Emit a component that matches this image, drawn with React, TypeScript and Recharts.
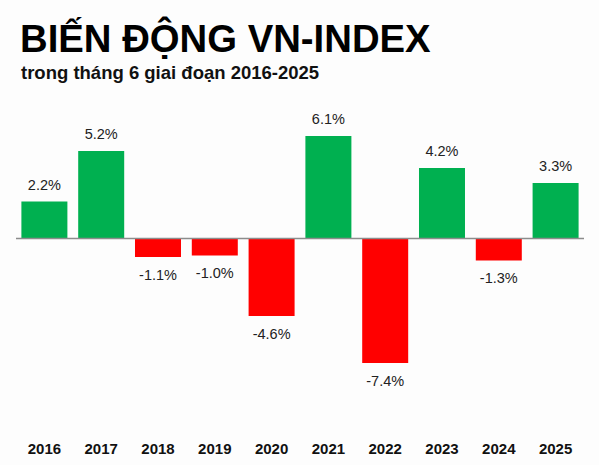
import { BarChart, Bar, XAxis, YAxis, Cell, LabelList, ReferenceLine } from 'recharts';

const years = ['2016', '2017', '2018', '2019', '2020', '2021', '2022', '2023', '2024', '2025'];
const changes = [2.2, 5.2, -1.1, -1.0, -4.6, 6.1, -7.4, 4.2, -1.3, 3.3];

const data = years.map((year, i) => ({ year, value: changes[i] }));

const GREEN = '#00b050';
const RED = '#ff0000';

const ValueLabel = (props: any) => {
  const { x, y, width, height, value } = props;
  const cx = x + width / 2;
  const neg = value < 0;
  const ty = neg ? Math.max(y, y + height) + 23 : Math.min(y, y + height) - 12;
  return (
    <text x={cx} y={ty} textAnchor="middle" fontSize={14.5} fill="#222" fontFamily="Arial, 'Liberation Sans', sans-serif">
      {value.toFixed(1) + '%'}
    </text>
  );
};

const YearTick = (props: any) => {
  const { x, y, payload } = props;
  return (
    <text x={x} y={y + 56} textAnchor="middle" fontSize={15} fontWeight="bold" fill="#111" fontFamily="Arial, 'Liberation Sans', sans-serif">
      {payload.value}
    </text>
  );
};

export default function App() {
  return (
    <div style={{ position: 'relative', width: 599, height: 465, background: '#fdfdfd', fontFamily: "Arial, 'Liberation Sans', sans-serif" }}>
      <style>{'body{margin:0}'}</style>
      <div style={{ position: 'absolute', left: 20, top: 17, fontSize: 38.3, fontWeight: 'bold', color: '#000', lineHeight: '44px', whiteSpace: 'nowrap' }}>
        BIẾN ĐỘNG VN-INDEX
      </div>
      <div style={{ position: 'absolute', left: 21, top: 63, fontSize: 18.5, fontWeight: 'bold', color: '#111', lineHeight: '20px', whiteSpace: 'nowrap' }}>
        trong tháng 6 giai đoạn 2016-2025
      </div>
      <div style={{ position: 'absolute', left: 0, top: 0 }}>
        <BarChart width={599} height={465} data={data} margin={{ top: 104, right: 15, left: 16, bottom: 0 }} barCategoryGap="9.5%">
          <YAxis hide domain={[-9, 8]} />
          <XAxis dataKey="year" height={75} axisLine={false} tickLine={false} tick={<YearTick />} interval={0} />
          <Bar dataKey="value" isAnimationActive={false}>
            {data.map((d, i) => (
              <Cell key={i} fill={d.value >= 0 ? GREEN : RED} />
            ))}
            <LabelList dataKey="value" content={<ValueLabel />} />
          </Bar>
          <ReferenceLine y={0} stroke="#8c8c8c" strokeWidth={1.5} />
        </BarChart>
      </div>
    </div>
  );
}
